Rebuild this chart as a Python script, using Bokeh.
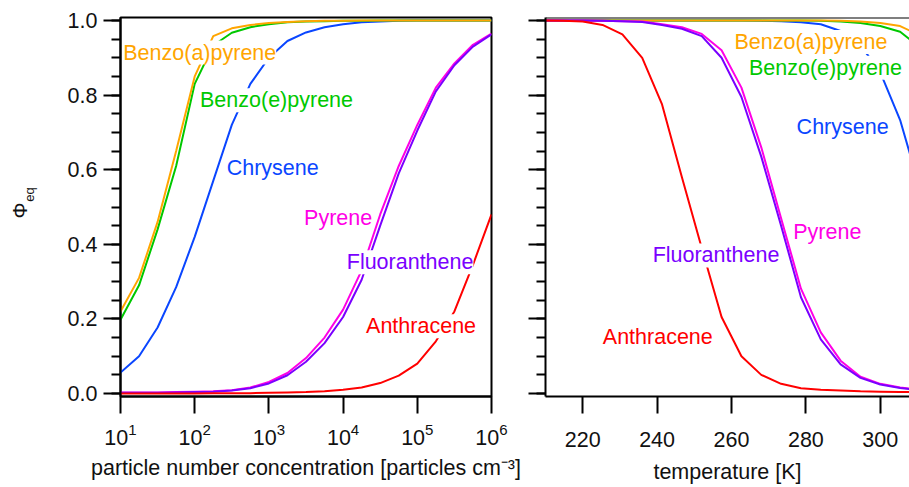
import math
from bokeh.plotting import figure
from bokeh.layouts import row
from bokeh.models import (Range1d, SingleIntervalTicker, LogTicker, PrintfTickFormatter,
                          Label, Span)
from bokeh.core.properties import value
from bokeh.embed import file_html
from bokeh.resources import INLINE

FONT = "Liberation Sans"
FS = "21.5px"

# ---------------- data ----------------
conc = [10, 17.78, 31.62, 56.23, 100, 177.8, 316.2, 562.3, 1000, 1778, 3162, 5623,
        10000, 17783, 31623, 56234, 100000, 177828, 316228, 562341, 1000000]

conc_bap = [0.22, 0.31, 0.46, 0.65, 0.85, 0.958, 0.979, 0.988, 0.993, 0.996, 0.998,
            0.999, 0.999, 1.0, 1.0, 1.0, 1.0, 1.0, 1.0, 1.0, 1.0]
conc_bep = [0.198, 0.29, 0.44, 0.61, 0.83, 0.933, 0.967, 0.982, 0.99, 0.995, 0.997,
            0.998, 0.999, 0.999, 1.0, 1.0, 1.0, 1.0, 1.0, 1.0, 1.0]
conc_chr = [0.056, 0.10, 0.177, 0.285, 0.42, 0.57, 0.72, 0.83, 0.90, 0.945, 0.968,
            0.982, 0.99, 0.995, 0.997, 0.999, 1.0, 1.0, 1.0, 1.0, 1.0]
conc_pyr = [0.003, 0.003, 0.003, 0.004, 0.005, 0.006, 0.009, 0.016, 0.031, 0.055, 0.095,
            0.15, 0.225, 0.33, 0.48, 0.61, 0.72, 0.82, 0.885, 0.935, 0.965]
conc_flu = [0.002, 0.002, 0.002, 0.003, 0.004, 0.005, 0.008, 0.014, 0.027, 0.049, 0.085,
            0.135, 0.205, 0.305, 0.45, 0.59, 0.705, 0.81, 0.88, 0.93, 0.963]
conc_ant = [0.0, 0.0, 0.0, 0.0, 0.0, 0.001, 0.001, 0.001, 0.002, 0.003, 0.004,
            0.006, 0.01, 0.016, 0.028, 0.048, 0.08, 0.14, 0.22, 0.345, 0.48]

temp = [209.33, 214.67, 220.0, 225.33, 230.67, 236.0, 241.33, 246.67, 252.0, 257.33,
        262.67, 268.0, 273.33, 278.67, 284.0, 289.33, 294.67, 300.0, 305.33, 310.67]

temp_bap = [1.0, 1.0, 1.0, 1.0, 1.0, 1.0, 1.0, 1.0, 1.0, 1.0, 1.0, 1.0, 1.0, 1.0,
            1.0, 0.999, 0.997, 0.993, 0.985, 0.96]
temp_bep = [1.0, 1.0, 1.0, 1.0, 1.0, 1.0, 1.0, 1.0, 1.0, 1.0, 1.0, 1.0, 1.0, 1.0,
            0.999, 0.997, 0.993, 0.985, 0.97, 0.927]
temp_chr = [1.0, 1.0, 1.0, 1.0, 1.0, 1.0, 1.0, 1.0, 1.0, 1.0, 1.0, 0.999, 0.998, 0.995,
            0.99, 0.972, 0.934, 0.861, 0.733, 0.55]
temp_pyr = [1.0, 1.0, 1.0, 0.999, 0.998, 0.997, 0.99, 0.982, 0.964, 0.92, 0.82, 0.66,
            0.47, 0.281, 0.164, 0.088, 0.045, 0.026, 0.016, 0.01]
temp_flu = [1.0, 1.0, 1.0, 0.999, 0.998, 0.996, 0.988, 0.978, 0.958, 0.90, 0.795, 0.635,
            0.45, 0.258, 0.145, 0.078, 0.042, 0.024, 0.015, 0.009]
temp_ant = [1.0, 0.999, 0.997, 0.988, 0.963, 0.90, 0.775, 0.58, 0.39, 0.205, 0.10, 0.05,
            0.026, 0.014, 0.010, 0.008, 0.006, 0.005, 0.004, 0.004]

names = ["Benzo(a)pyrene", "Benzo(e)pyrene", "Chrysene", "Pyrene", "Fluoranthene", "Anthracene"]
colors = {"Benzo(a)pyrene": "#FFA500", "Benzo(e)pyrene": "#00C800", "Chrysene": "#0A46FF",
          "Pyrene": "#FF00E6", "Fluoranthene": "#7A00FF", "Anthracene": "#FF0000"}

conc_series = {"Benzo(a)pyrene": conc_bap, "Benzo(e)pyrene": conc_bep, "Chrysene": conc_chr,
               "Pyrene": conc_pyr, "Fluoranthene": conc_flu, "Anthracene": conc_ant}
temp_series = {"Benzo(a)pyrene": temp_bap, "Benzo(e)pyrene": temp_bep, "Chrysene": temp_chr,
               "Pyrene": temp_pyr, "Fluoranthene": temp_flu, "Anthracene": temp_ant}

# label anchor positions (left edge of text, vertical middle)
conc_label_x = {"Benzo(a)pyrene": 10.9, "Benzo(e)pyrene": 118, "Chrysene": 270,
                "Pyrene": 2980, "Fluoranthene": 11200, "Anthracene": 20400}
conc_label_y = {"Benzo(a)pyrene": 0.914, "Benzo(e)pyrene": 0.786, "Chrysene": 0.605,
                "Pyrene": 0.471, "Fluoranthene": 0.352, "Anthracene": 0.18}
temp_label_x = {"Benzo(a)pyrene": 260.8, "Benzo(e)pyrene": 264.7, "Chrysene": 277.5,
                "Pyrene": 276.6, "Fluoranthene": 238.8, "Anthracene": 225.4}
temp_label_y = {"Benzo(a)pyrene": 0.942, "Benzo(e)pyrene": 0.873, "Chrysene": 0.714,
                "Pyrene": 0.432, "Fluoranthene": 0.37, "Anthracene": 0.151}

y_title = ["\u03a6", "eq"]

draw_order = ["Chrysene", "Benzo(e)pyrene", "Benzo(a)pyrene", "Pyrene", "Fluoranthene", "Anthracene"]

YR = (-0.008, 1.008)
H = 487


def style_axis(ax, labels=True):
    ax.axis_line_width = 2
    ax.axis_line_color = "black"
    ax.major_tick_line_width = 2
    ax.minor_tick_line_width = 2
    ax.major_tick_line_color = "black"
    ax.minor_tick_line_color = "black"
    ax.major_tick_in = 0
    ax.minor_tick_in = 0
    ax.major_tick_out = 17
    ax.minor_tick_out = 9
    ax.major_label_text_font = FONT
    if labels:
        ax.major_label_text_font_size = FS
        ax.major_label_text_color = "#111111"
    else:
        ax.major_label_text_font_size = "0px"
        ax.major_label_text_color = None
    ax.axis_label_text_font = FONT
    ax.axis_label_text_font_size = FS
    ax.axis_label_text_font_style = "normal"
    ax.axis_label_text_color = "#111111"


# ---------------- y-axis title strip ----------------
# (its frame gets aligned with the neighbouring frames: 17..396 px from the top)
p0 = figure(width=40, height=H, x_range=Range1d(0, 40), y_range=Range1d(396, 17),
            x_axis_location=None, y_axis_location=None, title=None,
            min_border_left=0, min_border_right=0, min_border_top=17, min_border_bottom=91,
            output_backend="svg", toolbar_location=None)
p0.grid.visible = False
p0.outline_line_color = None
p0.text(x=[19], y=[210], text=[y_title[0]], angle=math.pi / 2,
        text_font=value(FONT), text_font_size="20px", text_color="#111111",
        text_align="center", text_baseline="middle")
p0.text(x=[29], y=[194], text=[y_title[1]], angle=math.pi / 2,
        text_font=value(FONT), text_font_size="13px", text_color="#111111",
        text_align="center", text_baseline="middle")

# ---------------- left panel ----------------
p1 = figure(width=488, height=H, x_axis_type="log",
            x_range=Range1d(10, 1e6), y_range=Range1d(*YR),
            min_border_left=80, min_border_right=37, min_border_top=17, min_border_bottom=91,
            output_backend="svg", toolbar_location=None)
p1.grid.visible = False
p1.outline_line_color = "black"
p1.outline_line_width = 2
p1.outline_line_alpha = 1

for n in draw_order:
    p1.line(conc, conc_series[n], line_color=colors[n], line_width=2)

style_axis(p1.xaxis[0])
p1.xaxis[0].ticker = LogTicker(mantissas=[1], desired_num_ticks=6)
p1.xaxis[0].minor_tick_line_color = None
p1.xaxis[0].major_label_standoff = 9
p1.xaxis[0].axis_label = "particle number concentration [particles cm\u207b\u00b3]"
p1.xaxis[0].axis_label_standoff = 8

style_axis(p1.yaxis[0])
p1.yaxis[0].ticker = SingleIntervalTicker(interval=0.2, num_minor_ticks=4)
p1.yaxis[0].formatter = PrintfTickFormatter(format="%.1f")
p1.yaxis[0].major_label_standoff = 6

for n in names:
    p1.add_layout(Label(x=conc_label_x[n], y=conc_label_y[n], text=n,
                        text_color=colors[n], text_font=FONT, text_font_size=FS,
                        text_align="left", text_baseline="middle",
                        background_fill_color="white", background_fill_alpha=1.0))

# ---------------- right panel ----------------
p2 = figure(width=381, height=H,
            x_range=Range1d(210, 210 + 364 / 3.72), y_range=Range1d(*YR),
            min_border_left=17, min_border_right=0, min_border_top=17, min_border_bottom=91,
            output_backend="svg", toolbar_location=None)
p2.grid.visible = False
p2.outline_line_color = None

for n in draw_order:
    p2.line(temp, temp_series[n], line_color=colors[n], line_width=2)

style_axis(p2.xaxis[0])
p2.xaxis[0].ticker = SingleIntervalTicker(interval=20, num_minor_ticks=0)
p2.xaxis[0].minor_tick_line_color = None
p2.xaxis[0].major_label_standoff = 18
p2.xaxis[0].axis_label = "temperature [K]"
p2.xaxis[0].axis_label_standoff = 10

style_axis(p2.yaxis[0], labels=False)
p2.yaxis[0].ticker = SingleIntervalTicker(interval=0.2, num_minor_ticks=4)
p2.yaxis[0].major_label_standoff = 0

# top frame line of the right panel
p2.add_layout(Span(location=YR[1], dimension="width", line_color="black", line_width=2))

for n in names:
    p2.add_layout(Label(x=temp_label_x[n], y=temp_label_y[n], text=n,
                        text_color=colors[n], text_font=FONT, text_font_size=FS,
                        text_align="left", text_baseline="middle",
                        background_fill_color="white", background_fill_alpha=1.0))

layout = row(p0, p1, p2)
open("out.html", "w").write(file_html(layout, INLINE))
